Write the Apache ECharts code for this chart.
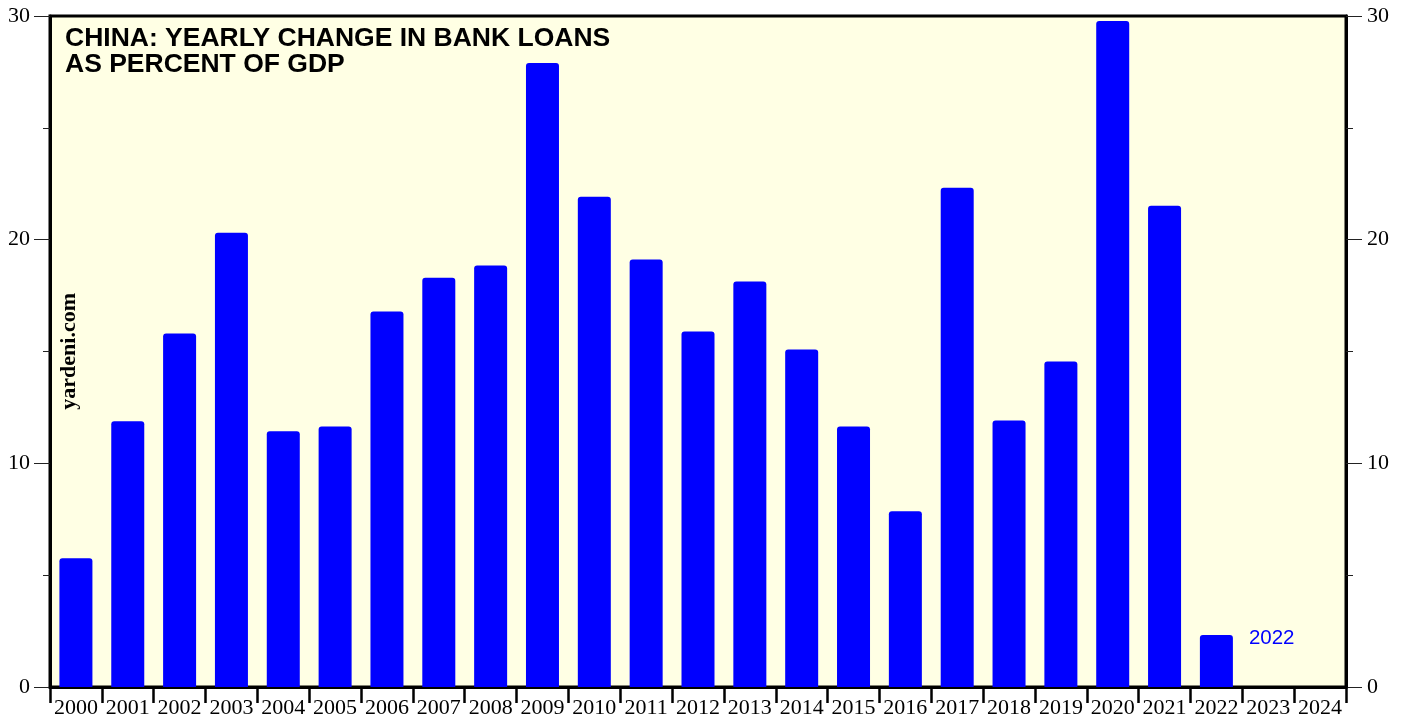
<!DOCTYPE html>
<html>
<head>
<meta charset="utf-8">
<script src="https://cdn.jsdelivr.net/npm/echarts@6/dist/echarts.min.js"></script>
<style>html,body{margin:0;padding:0;background:#fff;}#c{width:1405px;height:719px;}</style>
</head>
<body>
<div id="c"></div>
<script>
const years = ['2000','2001','2002','2003','2004','2005','2006','2007','2008','2009','2010','2011','2012','2013','2014','2015','2016','2017','2018','2019','2020','2021','2022','2023','2024'];
const loansPctGdp = [5.76, 11.88, 15.8, 20.31, 11.43, 11.65, 16.79, 18.3, 18.84, 27.9, 21.92, 19.11, 15.89, 18.13, 15.09, 11.65, 7.86, 22.32, 11.92, 14.55, 29.78, 21.52, 2.32, null, null];
const yTicks = [0, 10, 20, 30];
const titleLines = ['CHINA: YEARLY CHANGE IN BANK LOANS', 'AS PERCENT OF GDP'];
const lastLabel = '2022';

const chart = echarts.init(document.getElementById('c'));
const serif = '"Liberation Serif", "Times New Roman", serif';
const sans = '"Liberation Sans", Arial, sans-serif';

function yAxisCfg(pos, margin) {
  return {
    type: 'value', position: pos, min: yTicks[0], max: yTicks[yTicks.length - 1], interval: 10,
    axisLine: { show: true, lineStyle: { color: '#000', width: 3 } },
    axisTick: { show: true, length: 16, lineStyle: { color: '#222', width: 1 } },
    minorTick: { show: true, splitNumber: 2, length: 7, lineStyle: { color: '#222', width: 1 } },
    splitLine: { show: false },
    axisLabel: { color: '#000', fontFamily: serif, fontSize: 22, margin: margin }
  };
}

chart.setOption({
  animation: false,
  grid: { left: 50, right: 59, top: 16, bottom: 31, show: true, backgroundColor: '#ffffe4', borderColor: '#000', borderWidth: 3 },
  title: {
    text: titleLines.join('\n'), left: 60, top: 21,
    textStyle: { fontFamily: sans, fontWeight: 'bold', fontSize: 26.5, lineHeight: 26, color: '#000' }
  },
  graphic: [
    { type: 'text', left: 58, top: 293, rotation: Math.PI / 2, style: { text: 'yardeni.com', fontFamily: serif, fontWeight: 'bold', fontSize: 22, fill: '#000' }, z: 100 }
  ],
  xAxis: {
    type: 'category', data: years, boundaryGap: true,
    axisLine: { show: true, lineStyle: { color: '#000', width: 3 } },
    axisTick: { show: true, interval: 0, length: 16, lineStyle: { color: '#000', width: 2.5 } },
    axisLabel: { interval: 0, color: '#000', fontFamily: serif, fontSize: 22, margin: 10, hideOverlap: false }
  },
  yAxis: [yAxisCfg('left', 20), yAxisCfg('right', 21)],
  series: [{
    type: 'bar', data: loansPctGdp, barWidth: 33,
    itemStyle: { color: '#0000ff', borderRadius: [3, 3, 0, 0] },
    label: {
      show: true, position: 'right', distance: 16,
      formatter: p => p.dataIndex === 22 ? lastLabel : '',
      color: '#0000ff', fontFamily: sans, fontSize: 20.5, offset: [0, -23]
    }
  }]
});
</script>
</body>
</html>
